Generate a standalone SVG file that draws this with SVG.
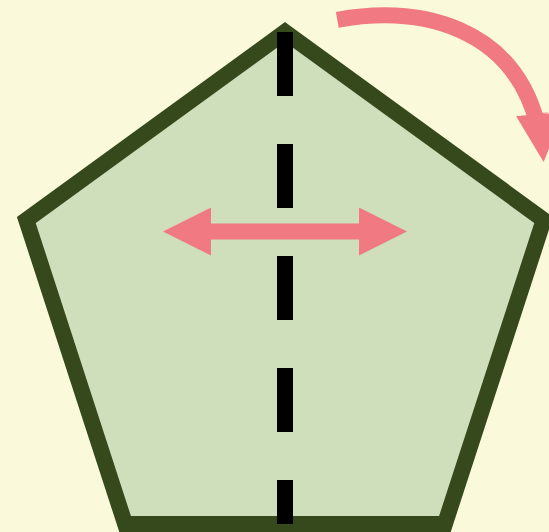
<svg xmlns="http://www.w3.org/2000/svg" width="549" height="532" viewBox="0 0 549 532">
  <style>
    .bg { fill: #faf9da; }
    .shape { fill: #cfdebb; stroke: #35491d; stroke-width: 16; stroke-linejoin: miter; }
    .axis { fill: none; stroke: #000000; stroke-width: 16; stroke-dasharray: 64 48; }
    .arrow { fill: none; stroke: #f07982; stroke-width: 16; stroke-linecap: butt; }
    .head { fill: #f07982; }
  </style>
  <defs>
    <marker id="ah" viewBox="0 0 3 3" refX="0" refY="1.5" markerWidth="3" markerHeight="3" markerUnits="strokeWidth" orient="auto-start-reverse">
      <path class="head" d="M0,0 L3,1.5 L0,3 Z"/>
    </marker>
  </defs>
  <rect class="bg" x="0" y="0" width="549" height="532"/>
  <g id="pentagon">
    <polygon class="shape" points="285,32 543.69,219.95 444.88,524.05 125.12,524.05 26.31,219.95"/>
  </g>
  <g id="symmetry-axis">
    <line class="axis" x1="285" y1="32" x2="285" y2="524"/>
  </g>
  <g id="connectors">
    <path id="flip-arrow" class="arrow" d="M 211 231.5 L 359 231.5" marker-start="url(#ah)" marker-end="url(#ah)"/>
    <path id="rotate-arrow" class="arrow" d="M 337.3 19.8 C 421.45 4.68, 513.34 26.98, 537.98 126.07 M 539.925 113.103 L 540 114.1" marker-end="url(#ah)"/>
  </g>
</svg>
